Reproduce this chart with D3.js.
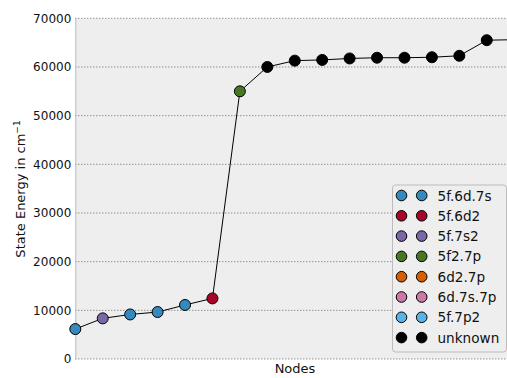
<!DOCTYPE html>
<html><head><meta charset="utf-8">
<script src="https://cdn.jsdelivr.net/npm/d3@7"></script>
<style>body{margin:0;background:#fff}svg{display:block;font-family:"DejaVu Sans",sans-serif}</style>
</head><body><svg id="c" width="507" height="378"></svg>
<script>
const nodes = [0,1,2,3,4,5,6,7,8,9,10,11,12,13,14,15,16];
const energies = [6150,8350,9150,9650,11100,12450,55000,60000,61300,61450,61750,61900,61900,62000,62300,65500,65600];
const configs = ["5f.6d.7s","5f.7s2","5f.6d.7s","5f.6d.7s","5f.6d.7s","5f.6d2","5f2.7p","unknown","unknown","unknown","unknown","unknown","unknown","unknown","unknown","unknown","unknown"];
const legendLabels = ["5f.6d.7s","5f.6d2","5f.7s2","5f2.7p","6d2.7p","6d.7s.7p","5f.7p2","unknown"];
const legendColors = ["#348ABD","#A60628","#7A68A6","#467821","#D55E00","#CC79A7","#56B4E9","#000000"];
const yTicks = [0,10000,20000,30000,40000,50000,60000,70000];

const svg = d3.select("#c");
const L = 75.3, R = 514.2, T = 18.3, B = 359;
const x = d3.scaleLinear().domain([0,16]).range([L,R]);
const y = d3.scaleLinear().domain([0,70000]).range([B,T]);
const color = d3.scaleOrdinal().domain(legendLabels).range(legendColors);

svg.append("rect").attr("x",L).attr("y",T).attr("width",R-L).attr("height",B-T).attr("fill","#eeeeee");

// grid
svg.append("g").selectAll("line").data(yTicks).join("line")
  .attr("x1",L).attr("x2",R).attr("y1",d=>y(d)).attr("y2",d=>y(d))
  .attr("stroke","#666").attr("stroke-width",1).attr("stroke-dasharray","1,2");

// axis
const ax = svg.append("g").attr("transform",`translate(${L},0)`)
  .call(d3.axisLeft(y).tickValues(yTicks).tickFormat(d3.format("d")).tickSize(0).tickPadding(4));
ax.select(".domain").attr("stroke","#bcbcbc");
ax.selectAll("text").attr("font-size",12).attr("fill","#111").attr("font-family","DejaVu Sans");

// line
const line = d3.line().x((d,i)=>x(nodes[i])).y(d=>y(d));
svg.append("path").datum(energies).attr("d",line).attr("fill","none").attr("stroke","#000").attr("stroke-width",1);

svg.append("g").selectAll("circle").data(energies).join("circle")
  .attr("cx",(d,i)=>x(nodes[i])).attr("cy",d=>y(d)).attr("r",5.5)
  .attr("fill",(d,i)=>color(configs[i])).attr("stroke","#000").attr("stroke-width",1);

// labels
svg.append("text").attr("x",295).attr("y",373).attr("text-anchor","middle").attr("font-size",13).attr("fill","#111").text("Nodes");
const yl = svg.append("text").attr("transform","translate(25,189) rotate(-90)").attr("text-anchor","middle").attr("font-size",13).attr("fill","#111");
yl.append("tspan").text("State Energy in cm");
yl.append("tspan").attr("font-size",9).attr("dy",-5).text("−1");

// legend
const lg = svg.append("g");
const lx = 392.5, ly = 185, lw = 114, lh = 167;
lg.append("rect").attr("x",lx).attr("y",ly).attr("width",lw).attr("height",lh).attr("rx",3)
  .attr("fill","#eeeeee").attr("stroke","#bcbcbc").attr("stroke-width",1);
const rows = lg.selectAll("g").data(legendLabels).join("g")
  .attr("transform",(d,i)=>`translate(0,${195.5+i*20.3})`);
rows.selectAll("circle").data(d=>[d,d]).join("circle")
  .attr("cx",(d,i)=>i?421.7:401.5).attr("cy",0).attr("r",5.3)
  .attr("fill",d=>color(d)).attr("stroke","#000").attr("stroke-width",1);
rows.append("text").attr("x",437.5).attr("y",5).attr("font-size",13.6).attr("fill","#111").text(d=>d);
</script></body></html>
